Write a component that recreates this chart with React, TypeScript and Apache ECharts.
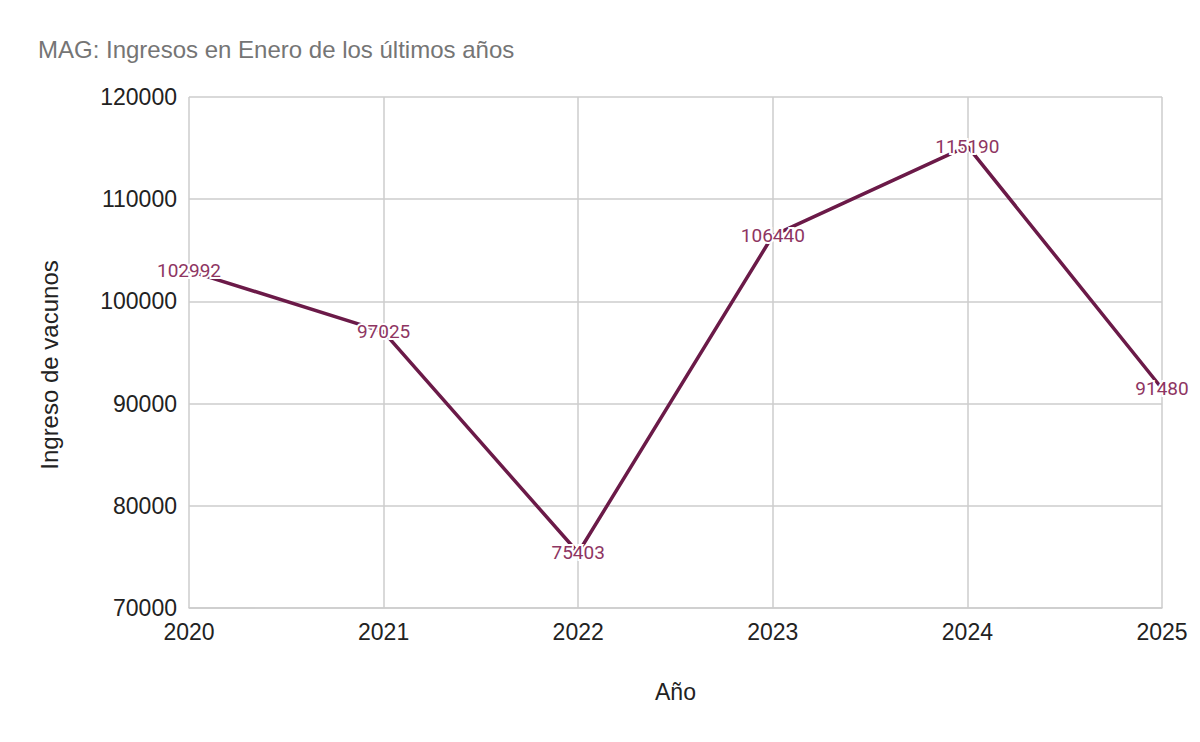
import React, { useEffect, useRef } from "react";
import * as echarts from "echarts";

const years = ["2020", "2021", "2022", "2023", "2024", "2025"];
const ingresos = [102992, 97025, 75403, 106440, 115190, 91480];
const titleText = "MAG: Ingresos en Enero de los últimos años";
const yName = "Ingreso de vacunos";
const xName = "Año";

const FONT = "'Liberation Sans', Arial, sans-serif";

export default function App() {
  const ref = useRef<HTMLDivElement>(null);
  useEffect(() => {
    if (!ref.current) return;
    const chart = echarts.init(ref.current, undefined, { renderer: "svg" });
    chart.setOption({
      animation: false,
      backgroundColor: "#ffffff",
      title: {
        text: titleText,
        left: 33,
        top: 32,
        textStyle: { color: "#757575", fontSize: 24, fontWeight: "normal", fontFamily: FONT },
      },
      graphic: [
        {
          type: "text",
          x: 49,
          y: 365,
          rotation: Math.PI / 2,
          style: {
            text: yName,
            fill: "#222222",
            font: "24px " + FONT,
            textAlign: "center",
            textVerticalAlign: "middle",
          },
        },
      ],
      grid: { left: 189, right: 38, top: 97, bottom: 134, containLabel: false },
      xAxis: {
        type: "category",
        data: years,
        boundaryGap: false,
        name: xName,
        nameLocation: "middle",
        nameGap: 72,
        nameTextStyle: { color: "#222", fontSize: 23, fontFamily: FONT },
        axisLine: { show: true, lineStyle: { color: "#cccccc", width: 1.5 } },
        axisTick: { show: false },
        axisLabel: { color: "#222", fontSize: 23, margin: 12, fontFamily: FONT },
        splitLine: { show: true, lineStyle: { color: "#cccccc", width: 1.5 } },
      },
      yAxis: {
        type: "value",
        min: 70000,
        max: 120000,
        interval: 10000,
        axisLine: { show: false },
        axisTick: { show: false },
        axisLabel: { color: "#222", fontSize: 23, margin: 12, fontFamily: FONT, formatter: (v: number) => String(v) },
        splitLine: { show: true, lineStyle: { color: "#cccccc", width: 1.5 } },
      },
      series: [
        {
          type: "line",
          data: ingresos,
          showSymbol: true,
          symbolSize: 0,
          lineStyle: { color: "#6b1a48", width: 3.5 },
          itemStyle: { color: "#6b1a48" },
          label: {
            show: true,
            position: "inside",
            color: "#8e3562",
            fontSize: 19,
            fontFamily: "Roboto, sans-serif",
            textBorderColor: "#ffffff",
            textBorderWidth: 4,
          },
        },
      ],
    });
    return () => chart.dispose();
  }, []);
  return <div ref={ref} style={{ position: "fixed", left: 0, top: 0, width: 1200, height: 742 }} />;
}
